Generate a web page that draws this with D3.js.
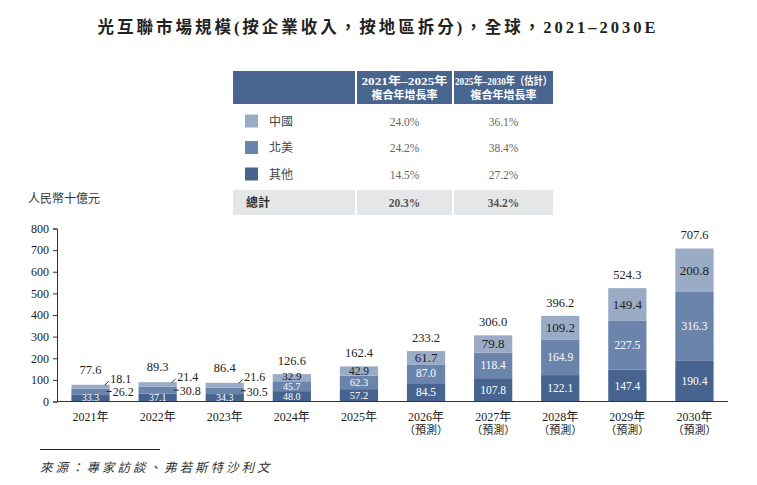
<!DOCTYPE html>
<html><head><meta charset="utf-8">
<script src="https://cdn.jsdelivr.net/npm/d3@7"></script>
<style>
body{margin:0;background:#fff;}
svg text{font-family:"Liberation Serif","Noto Sans CJK TC",serif;}
</style></head>
<body><svg id="c" width="757" height="485"></svg>
<script>
const years = ["2021年","2022年","2023年","2024年","2025年","2026年","2027年","2028年","2029年","2030年"];
const forecast = [false,false,false,false,false,true,true,true,true,true];
const other = [33.3,37.1,34.3,48.0,57.2,84.5,107.8,122.1,147.4,190.4];
const northAmerica = [26.2,30.8,30.5,45.7,62.3,87.0,118.4,164.9,227.5,316.3];
const china = [18.1,21.4,21.6,32.9,42.9,61.7,79.8,109.2,149.4,200.8];
const totals = [77.6,89.3,86.4,126.6,162.4,233.2,306.0,396.2,524.3,707.6];
const yTicks = [0,100,200,300,400,500,600,700,800];
const seriesNames = ["中國","北美","其他"];
const cagr2125 = ["24.0%","24.2%","14.5%"];
const cagr2530 = ["36.1%","38.4%","27.2%"];
const totalCagr = ["20.3%","34.2%"];
const colors = {china:"#9aabc6", na:"#6b84ab", other:"#46648f"};

const svg = d3.select("#c");

// Title
svg.append("text").attr("x",378).attr("y",33).attr("text-anchor","middle")
  .attr("font-size",16.5).attr("font-weight","bold").attr("fill","#222")
  .attr("letter-spacing","3px")
  .text("光互聯市場規模(按企業收入，按地區拆分)，全球，2021–2030E");

// Table
const tx0=233, tx1=355, tx2=452, tx3=553;
const hdr = "#48658f";
svg.append("rect").attr("x",tx0).attr("y",71).attr("width",tx1-tx0).attr("height",33).attr("fill",hdr);
svg.append("rect").attr("x",tx1+2).attr("y",71).attr("width",tx2-tx1-2).attr("height",33).attr("fill",hdr);
svg.append("rect").attr("x",tx2+2).attr("y",71).attr("width",tx3-tx2-2).attr("height",33).attr("fill",hdr);
const c2=(tx1+2+tx2)/2, c3=(tx2+2+tx3)/2;
const hdrLines = [[c2,["2021年–2025年","複合年增長率"],[86,0]],[c3,["2025年–2030年（估計）","複合年增長率"],[97,0]]];
hdrLines.forEach(([cx,lines,lens])=>{
  lines.forEach((l,i)=>{
    const t = svg.append("text").attr("x",cx).attr("y",85+i*14).attr("text-anchor","middle")
      .attr("font-size",11).attr("font-weight","bold").attr("fill","#fff").text(l);
    if(lens[i]) t.attr("textLength",lens[i]).attr("lengthAdjust","spacingAndGlyphs");
  });
});
const swCols=[colors.china,colors.na,colors.other];
seriesNames.forEach((n,i)=>{
  const cy=121+i*26.5;
  svg.append("rect").attr("x",245).attr("y",cy-6.5).attr("width",13).attr("height",13).attr("fill",swCols[i]);
  svg.append("text").attr("x",269).attr("y",cy+4.5).attr("font-size",12).attr("fill","#444").text(n);
  svg.append("text").attr("x",c2).attr("y",cy+4.5).attr("text-anchor","middle").attr("font-size",11.5).attr("fill","#666").text(cagr2125[i]);
  svg.append("text").attr("x",c3).attr("y",cy+4.5).attr("text-anchor","middle").attr("font-size",11.5).attr("fill","#666").text(cagr2530[i]);
});
const gr="#e5e6e8";
svg.append("rect").attr("x",tx0).attr("y",190).attr("width",tx1-tx0).attr("height",25).attr("fill",gr);
svg.append("rect").attr("x",tx1+2).attr("y",190).attr("width",tx2-tx1-2).attr("height",25).attr("fill",gr);
svg.append("rect").attr("x",tx2+2).attr("y",190).attr("width",tx3-tx2-2).attr("height",25).attr("fill",gr);
svg.append("text").attr("x",246).attr("y",207).attr("font-size",12).attr("font-weight","bold").attr("fill","#333").text("總計");
svg.append("text").attr("x",c2).attr("y",207).attr("text-anchor","middle").attr("font-size",11.5).attr("font-weight","bold").attr("fill","#555").text(totalCagr[0]);
svg.append("text").attr("x",c3).attr("y",207).attr("text-anchor","middle").attr("font-size",11.5).attr("font-weight","bold").attr("fill","#555").text(totalCagr[1]);

// Unit
svg.append("text").attr("x",28).attr("y",203).attr("font-size",12).attr("fill","#333").text("人民幣十億元");

// Scales
const x = d3.scaleBand().domain(years).range([57,728]).paddingInner(0.43).paddingOuter(0.215);
const y = d3.scaleLinear().domain([0,800]).range([401.5,228.5]);

// Y axis
const yAxis = svg.append("g").attr("transform","translate(57,0)")
  .call(d3.axisLeft(y).tickValues(yTicks).tickSize(4).tickPadding(4).tickFormat(d3.format("d")));
yAxis.select(".domain").attr("stroke","#333");
yAxis.selectAll(".tick line").attr("stroke","#333");
yAxis.selectAll("text").attr("font-size",12).attr("fill","#222").attr("font-family","Liberation Serif");

// Stacked data
const rows = years.map((yr,i)=>({year:yr, other:other[i], na:northAmerica[i], china:china[i], total:totals[i], fc:forecast[i]}));
const stack = d3.stack().keys(["other","na","china"])(rows);
const g = svg.append("g");
stack.forEach(layer=>{
  g.selectAll(null).data(layer).enter().append("rect")
    .attr("x",d=>x(d.data.year)).attr("width",x.bandwidth())
    .attr("y",d=>y(d[1])).attr("height",d=>y(d[0])-y(d[1]))
    .attr("fill",colors[layer.key]);
});

// baseline
svg.append("line").attr("x1",57).attr("x2",728).attr("y1",401.5).attr("y2",401.5).attr("stroke","#333").attr("stroke-width",1.2);

// labels
stack.forEach(layer=>{
  layer.forEach((d,i)=>{
    const cx = x(d.data.year)+x.bandwidth()/2;
    const right = x(d.data.year)+x.bandwidth();
    const cy = (y(d[0])+y(d[1]))/2;
    const val = d.data[layer.key].toFixed(1);
    const small = d.data.total < 100;
    const tiny = d.data.total < 130;
    const mid = d.data.total < 200;
    const fs = mid ? (tiny?10:10.5) : 11.5;
    if(layer.key==="other"){
      svg.append("text").attr("x",cx).attr("y",cy+(mid?3.5:4)).attr("text-anchor","middle").attr("font-size",fs).attr("fill","#fff").text(val);
    } else if(layer.key==="na"){
      if(small){
        svg.append("line").attr("x1",right-3).attr("x2",right+2).attr("y1",cy).attr("y2",cy).attr("stroke","#222");
        svg.append("text").attr("x",right+3).attr("y",cy+5).attr("font-size",12).attr("fill","#222").text(val);
      } else {
        svg.append("text").attr("x",cx).attr("y",cy+3.5).attr("text-anchor","middle").attr("font-size",fs).attr("fill","#fff").text(val);
      }
    } else {
      if(small){
        const ty = y(d[1]);
        svg.append("line").attr("x1",right-5).attr("x2",right-1).attr("y1",ty+0.5).attr("y2",ty-3.5).attr("stroke","#222");
        svg.append("text").attr("x",right+0.5).attr("y",ty-1.5).attr("font-size",12).attr("fill","#222").text(val);
      } else {
        svg.append("text").attr("x",cx).attr("y",cy+(mid?(tiny?2.5:3.5):4.5)).attr("text-anchor","middle").attr("font-size",mid?(tiny?11:11.5):13).attr("fill","#222").text(val);
      }
    }
  });
});
// totals
rows.forEach(d=>{
  const cx = x(d.year)+x.bandwidth()/2;
  svg.append("text").attr("x",cx).attr("y",y(d.total)-(d.total<100?11:9)).attr("text-anchor","middle")
    .attr("font-size",12.5).attr("fill","#222").text(d.total.toFixed(1));
  svg.append("text").attr("x",cx).attr("y",421).attr("text-anchor","middle").attr("font-size",12).attr("fill","#222").text(d.year);
  if(d.fc) svg.append("text").attr("x",cx).attr("y",434).attr("text-anchor","middle").attr("font-size",11).attr("fill","#222").text("（預測）");
});

// source
svg.append("line").attr("x1",40).attr("x2",160).attr("y1",449.5).attr("y2",449.5).attr("stroke","#222");
svg.append("text").attr("x",40).attr("y",472).attr("font-size",12.5).attr("font-style","italic").attr("fill","#333")
  .attr("letter-spacing","3px").text("來源：專家訪談、弗若斯特沙利文");
</script></body></html>
